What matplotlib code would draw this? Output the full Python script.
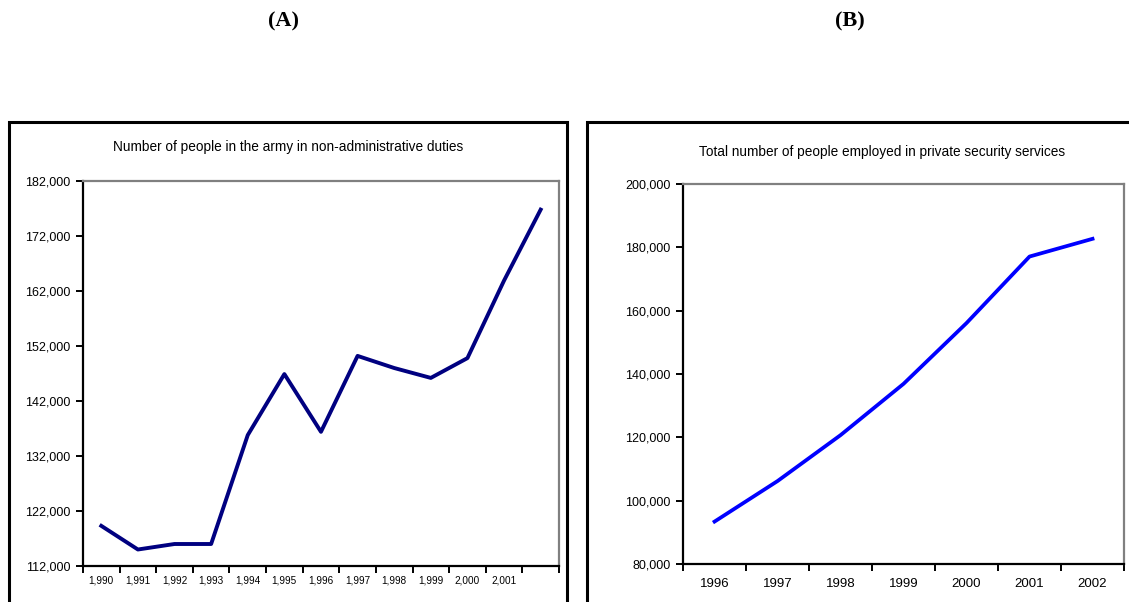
import matplotlib.pyplot as plt
from matplotlib.patches import Rectangle
from matplotlib.ticker import FuncFormatter

# panel A: army, non-administrative duties (13 points, 12 labelled years)
army_years = [1990, 1991, 1992, 1993, 1994, 1995, 1996, 1997, 1998, 1999, 2000, 2001]
army_people = [119300, 115000, 116000, 116000, 135800, 146900, 136400,
               150200, 148000, 146200, 149800, 163900, 176800]
army_yticks = [112000, 122000, 132000, 142000, 152000, 162000, 172000, 182000]

# panel B: private security services
sec_years = [1996, 1997, 1998, 1999, 2000, 2001, 2002]
sec_people = [93400, 106200, 120700, 136900, 156100, 177100, 182700]
sec_yticks = [80000, 100000, 120000, 140000, 160000, 180000, 200000]

plt.rcParams['font.family'] = ['Liberation Sans', 'DejaVu Sans']

fig = plt.figure(figsize=(11.29, 6.02), dpi=100)
fig.patch.set_facecolor('white')

comma = FuncFormatter(lambda v, p: f"{int(v):,}")


def style_axes(ax):
    for side in ('left', 'bottom'):
        ax.spines[side].set_color('black')
        ax.spines[side].set_linewidth(1.6)
    for side in ('top', 'right'):
        ax.spines[side].set_color('#808080')
        ax.spines[side].set_linewidth(1.6)
    ax.tick_params(axis='both', which='major', direction='out', length=5,
                   width=1.4, color='black')
    ax.tick_params(axis='x', which='minor', length=0)


# outer frames
fig.patches.append(Rectangle((9 / 1129, -0.05), 558 / 1129, 0.05 + 1 - 122 / 602,
                             transform=fig.transFigure, fill=False,
                             edgecolor='black', linewidth=2.2))
fig.patches.append(Rectangle((587 / 1129, -0.05), 560 / 1129, 0.05 + 1 - 122 / 602,
                             transform=fig.transFigure, fill=False,
                             edgecolor='black', linewidth=2.2))

serif = ['Liberation Serif', 'DejaVu Serif']
fig.text(0.2507, 0.965, '(A)', ha='center', va='center', fontsize=16,
         fontweight='bold', family=serif)
fig.text(0.753, 0.965, '(B)', ha='center', va='center', fontsize=16,
         fontweight='bold', family=serif)

# --- A ---
axA = fig.add_axes([0.0735, 0.0598, 0.4216, 0.6395])
xa = list(range(len(army_people)))
axA.plot(xa, army_people, color='#000080', linewidth=2.8)
axA.set_xlim(-0.5, len(army_people) - 0.5)
axA.set_ylim(army_yticks[0], army_yticks[-1])
axA.set_yticks(army_yticks)
axA.yaxis.set_major_formatter(comma)
axA.set_xticks([i - 0.5 for i in range(len(army_people) + 1)])
axA.set_xticklabels([])
axA.set_xticks(range(len(army_years)), minor=True)
axA.set_xticklabels([f"{y:,}" for y in army_years], minor=True, fontsize=7.2)
style_axes(axA)
axA.tick_params(axis='y', labelsize=9, pad=4)
axA.tick_params(axis='x', which='minor', pad=7)
fig.text(0.255, 0.756, 'Number of people in the army in non-administrative duties',
         ha='center', va='center', fontsize=9.8)

# --- B ---
axB = fig.add_axes([0.605, 0.0631, 0.3906, 0.6312])
xb = list(range(len(sec_people)))
axB.plot(xb, sec_people, color='#0000FF', linewidth=2.7)
axB.set_xlim(-0.5, len(sec_people) - 0.5)
axB.set_ylim(sec_yticks[0], sec_yticks[-1])
axB.set_yticks(sec_yticks)
axB.yaxis.set_major_formatter(comma)
axB.set_xticks([i - 0.5 for i in range(len(sec_people) + 1)])
axB.set_xticklabels([])
axB.set_xticks(xb, minor=True)
axB.set_xticklabels([str(y) for y in sec_years], minor=True, fontsize=9.5)
style_axes(axB)
axB.tick_params(axis='y', labelsize=9, pad=4)
axB.tick_params(axis='x', which='minor', pad=10)
fig.text(0.781, 0.748, 'Total number of people employed in private security services',
         ha='center', va='center', fontsize=9.8)

fig.savefig('out.png', dpi=100, facecolor='white')
